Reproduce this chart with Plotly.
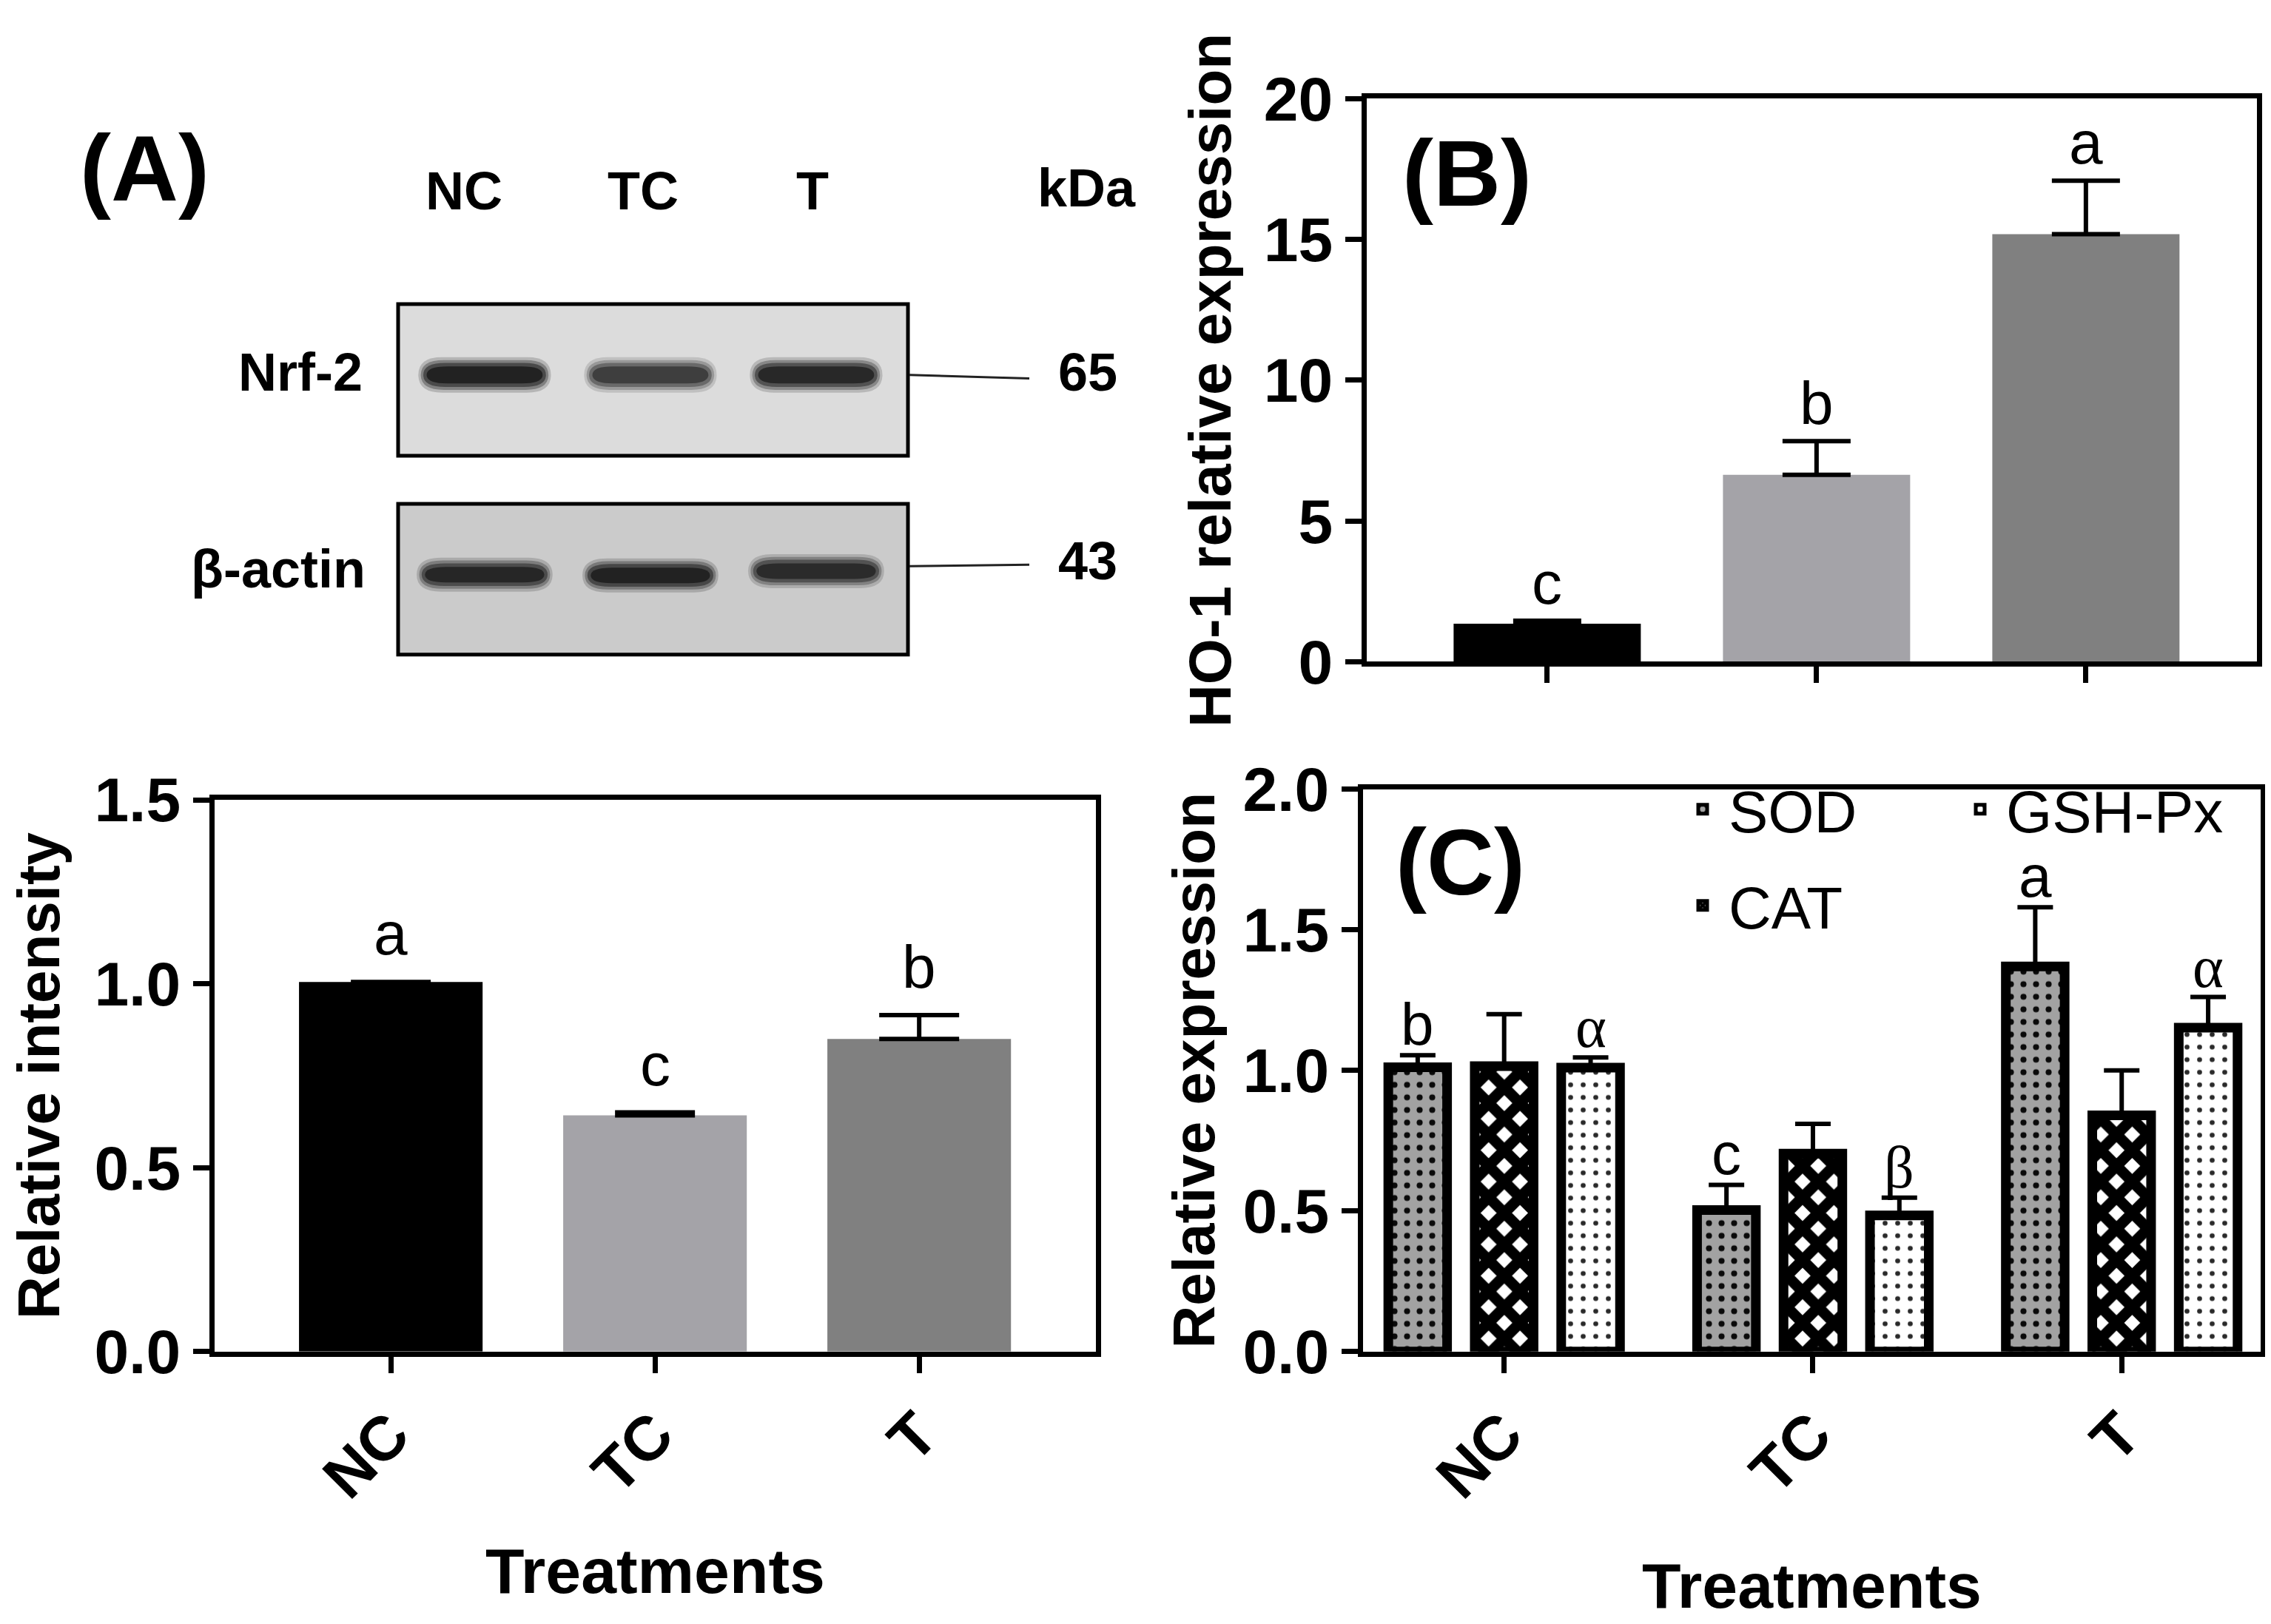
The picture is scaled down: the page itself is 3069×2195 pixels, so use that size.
import plotly.graph_objects as go

W, H = 3069, 2195

# ---------------- data ----------------
treatments = ["NC", "TC", "T"]

# (A) western blot (relative band darkness per lane)
blot_lanes = ["NC", "TC", "T"]
nrf2_band = [1.0, 0.72, 0.92]
actin_band = [0.92, 0.97, 0.86]
blot_proteins = ["Nrf-2", "β-actin"]
blot_kda = ["65", "43"]

# (A) densitometry
rel_intensity = [1.005, 0.642, 0.850]
rel_intensity_err = [0.0, 0.008, 0.065]
rel_intensity_letters = ["a", "c", "b"]

# (B) HO-1
ho1 = [1.35, 6.64, 15.19]
ho1_err = [0.11, 1.20, 1.90]
ho1_letters = ["c", "b", "a"]

# (C) antioxidant enzymes
enzymes = ["SOD", "CAT", "GSH-Px"]
sod = [1.011, 0.503, 1.370]
sod_err = [0.043, 0.090, 0.210]
cat = [1.015, 0.704, 0.840]
cat_err = [0.185, 0.106, 0.160]
gsh = [1.010, 0.484, 1.152]
gsh_err = [0.036, 0.063, 0.109]
sod_letters = ["b", "c", "a"]
cat_letters = ["", "", ""]
gsh_letters = ["α", "β", "α"]

# ---------------- helpers ----------------
def px(x):
    return x / W

def py(y):
    return 1 - y / H

SANS = "Liberation Sans, Arial, sans-serif"
SERIF = "Liberation Serif, Times New Roman, serif"
bar_colors = ["#000000", "#a4a3a8", "#808080"]

fig = go.Figure()

# (A) bottom
fig.add_trace(go.Bar(
    x=treatments, y=rel_intensity, width=0.695,
    marker=dict(color=bar_colors, line=dict(width=0)),
    error_y=dict(type="data", array=rel_intensity_err, arrayminus=[0]*3, symmetric=False,
                 color="black", thickness=6, width=54),
    xaxis="x", yaxis="y", showlegend=False))

# (B)
fig.add_trace(go.Bar(
    x=treatments, y=ho1, width=0.695,
    marker=dict(color=bar_colors, line=dict(width=0)),
    error_y=dict(type="data", array=ho1_err, arrayminus=[0]*3, symmetric=False,
                 color="black", thickness=6, width=46),
    xaxis="x2", yaxis="y2", showlegend=False))

# (C)
c_series = [
    (enzymes[0], sod, sod_err,
     dict(shape=".", bgcolor="#a2a2a2", fgcolor="#0a0a0a", fgopacity=1, size=17, solidity=0.18), "#a2a2a2", "legend"),
    (enzymes[1], cat, cat_err,
     dict(shape="x", bgcolor="white", fgcolor="black", fgopacity=1, size=30, solidity=0.74), "white", "legend2"),
    (enzymes[2], gsh, gsh_err,
     dict(shape=".", bgcolor="white", fgcolor="#2a2a2a", fgopacity=1, size=17, solidity=0.12), "white", "legend"),
]
for name, vals, errs, patt, col, lg in c_series:
    fig.add_trace(go.Bar(
        name=name, x=treatments, y=vals,
        marker=dict(color=col, pattern=patt, line=dict(color="black", width=13)),
        error_y=dict(type="data", array=errs, arrayminus=[0]*3, symmetric=False,
                     color="black", thickness=6, width=24),
        xaxis="x3", yaxis="y3", legend=lg))

annotations = []

# letters (A)
for i, t in enumerate(treatments):
    annotations.append(dict(x=t, y=rel_intensity[i] + rel_intensity_err[i], xref="x", yref="y",
                            text=rel_intensity_letters[i], showarrow=False, yanchor="bottom",
                            yshift=18, font=dict(family=SANS, size=82, color="black")))
# letters (B)
for i, t in enumerate(treatments):
    annotations.append(dict(x=t, y=ho1[i] + ho1_err[i], xref="x2", yref="y2",
                            text=ho1_letters[i], showarrow=False, yanchor="bottom",
                            yshift=4, font=dict(family=SANS, size=82, color="black")))
# letters (C)
slot = (1 - 0.16) / 3
for j, (vals, errs, letters, fam) in enumerate([(sod, sod_err, sod_letters, SANS),
                                                 (cat, cat_err, cat_letters, SANS),
                                                 (gsh, gsh_err, gsh_letters, SERIF)]):
    for i in range(len(treatments)):
        if letters[i]:
            annotations.append(dict(x=i + (j - 1) * slot, y=vals[i] + errs[i], xref="x3", yref="y3",
                                    text=letters[i], showarrow=False, yanchor="bottom",
                                    yshift=-5, font=dict(family=fam, size=80, color="black")))

# panel labels
for txt, x, y in [("(A)", 187, 180), ("(B)", 1975, 188), ("(C)", 1966, 1160)]:
    annotations.append(dict(x=px(x), y=py(y), xref="paper", yref="paper", text="<b>%s</b>" % txt,
                            showarrow=False, xanchor="center", yanchor="middle",
                            font=dict(family=SANS, size=126, color="black")))

# blot header labels
for i, lane in enumerate(blot_lanes):
    annotations.append(dict(x=i, y=py(212), xref="x4", yref="paper", text="<b>%s</b>" % lane,
                            xshift=[-28, -10, -5][i],
                            showarrow=False, xanchor="center", yanchor="middle",
                            font=dict(family=SANS, size=72, color="black")))
annotations.append(dict(x=px(1460), y=py(208), xref="paper", yref="paper", text="<b>kDa</b>",
                        showarrow=False, xanchor="center", yanchor="middle",
                        font=dict(family=SANS, size=72, color="black")))
for name, yc, xr in [(blot_proteins[0], 468, 484), (blot_proteins[1], 746, 488)]:
    annotations.append(dict(x=px(xr), y=py(yc), xref="paper", yref="paper", text="<b>%s</b>" % name,
                            showarrow=False, xanchor="right", yanchor="middle",
                            font=dict(family=SANS, size=72, color="black")))
for kd, yc in zip(blot_kda, [468, 734]):
    annotations.append(dict(x=px(1462), y=py(yc), xref="paper", yref="paper", text="<b>%s</b>" % kd,
                            showarrow=False, xanchor="center", yanchor="middle",
                            font=dict(family=SANS, size=72, color="black")))

shapes = []
# blot boxes
for (y0, y1, fill) in [(372, 586, "#dcdcdc"), (654, 867, "#cbcbcb")]:
    shapes.append(dict(type="rect", xref="paper", yref="paper", x0=px(530), x1=px(1219),
                       y0=py(y1), y1=py(y0), fillcolor=fill, line=dict(color="black", width=5),
                       layer="below"))
# marker lines
shapes.append(dict(type="line", xref="paper", yref="paper", x0=px(1221), x1=px(1383),
                   y0=py(472), y1=py(477), line=dict(color="#222", width=3)))
shapes.append(dict(type="line", xref="paper", yref="paper", x0=px(1221), x1=px(1383),
                   y0=py(742), y1=py(740), line=dict(color="#222", width=3)))

def band(i, yc, hgt, wid, op):
    x0, x1 = i - wid / 2, i + wid / 2
    r = wid * 0.18
    y0, y1 = py(yc + hgt / 2), py(yc - hgt / 2)
    ym = py(yc)
    path = (f"M {x0 + r},{y0} L {x1 - r},{y0} Q {x1},{y0} {x1},{ym} Q {x1},{y1} {x1 - r},{y1} "
            f"L {x0 + r},{y1} Q {x0},{y1} {x0},{ym} Q {x0},{y0} {x0 + r},{y0} Z")
    return dict(type="path", xref="x4", yref="paper", path=path, fillcolor="#080808",
                opacity=op, line=dict(width=0))

for i, inten in enumerate(nrf2_band):
    for hgt, wid, op in [(50, 0.80, 0.18), (42, 0.77, 0.3), (34, 0.74, 0.45), (24, 0.70, 0.6)]:
        shapes.append(band(i, 472, hgt, wid, op * inten))
for i, inten in enumerate(actin_band):
    yc = [754, 755, 749][i]
    for hgt, wid, op in [(48, 0.82, 0.18), (40, 0.79, 0.3), (32, 0.76, 0.45), (22, 0.72, 0.6)]:
        shapes.append(band(i, yc, hgt, wid, op * inten))

axis_common = dict(showline=True, linecolor="black", linewidth=7, mirror=True,
                   ticks="outside", ticklen=22, tickwidth=7, tickcolor="black",
                   showgrid=False, zeroline=False,
                   tickfont=dict(family=SANS, size=84, color="black", weight="bold"))
title_font = dict(family=SANS, size=80, color="black")
xtitle_font = dict(family=SANS, size=86, color="black")
legend_font = dict(family=SANS, size=80, color="black")

fig.update_layout(
    width=W, height=H,
    margin=dict(l=0, r=0, t=0, b=0),
    paper_bgcolor="white", plot_bgcolor="white",
    barmode="group", bargap=0.16, bargroupgap=0.32,
    xaxis=dict(domain=[px(282), px(1473)], anchor="y", range=[-0.667, 2.669],
               tickangle=-45, **axis_common,
               title=dict(text="<b>Treatments</b>", font=xtitle_font, standoff=54)),
    yaxis=dict(domain=[py(1851), py(1072)], anchor="x", range=[0, 1.5],
               tickvals=[0, 0.5, 1.0, 1.5], tickformat=".1f", **axis_common,
               title=dict(text="<b>Relative intensity</b>", font=title_font, standoff=30)),
    xaxis2=dict(domain=[px(1839), px(3042)], anchor="y2", range=[-0.67, 2.635],
                showticklabels=False, **axis_common),
    yaxis2=dict(domain=[py(877), py(82)], anchor="x2", range=[0, 20],
                tickvals=[0, 5, 10, 15, 20], **axis_common,
                title=dict(text="<b>HO-1 relative expression</b>", font=title_font, standoff=20)),
    xaxis3=dict(domain=[px(1834), px(3047)], anchor="y3", range=[-0.457, 2.45],
                tickangle=-45, **axis_common,
                title=dict(text="<b>Treatments</b>", font=xtitle_font, standoff=74)),
    yaxis3=dict(domain=[py(1851), py(1057)], anchor="x3", range=[0, 2.0],
                tickvals=[0, 0.5, 1.0, 1.5, 2.0], tickformat=".1f", **axis_common,
                title=dict(text="<b>Relative expression</b>", font=title_font, standoff=14)),
    xaxis4=dict(domain=[px(530), px(1219)], anchor="y4", range=[-0.522, 2.554], visible=False),
    yaxis4=dict(domain=[py(867), py(372)], anchor="x4", range=[0, 1], visible=False),
    legend=dict(orientation="h", x=px(2258), y=py(1024), xanchor="left", yanchor="top",
                entrywidth=300, entrywidthmode="pixels", itemwidth=60,
                font=legend_font, bgcolor="rgba(0,0,0,0)"),
    legend2=dict(orientation="h", x=px(2258), y=py(1160), xanchor="left", yanchor="top",
                 itemwidth=60, font=legend_font, bgcolor="rgba(0,0,0,0)"),
    annotations=annotations,
    shapes=shapes,
)

fig.write_html("out.html")
